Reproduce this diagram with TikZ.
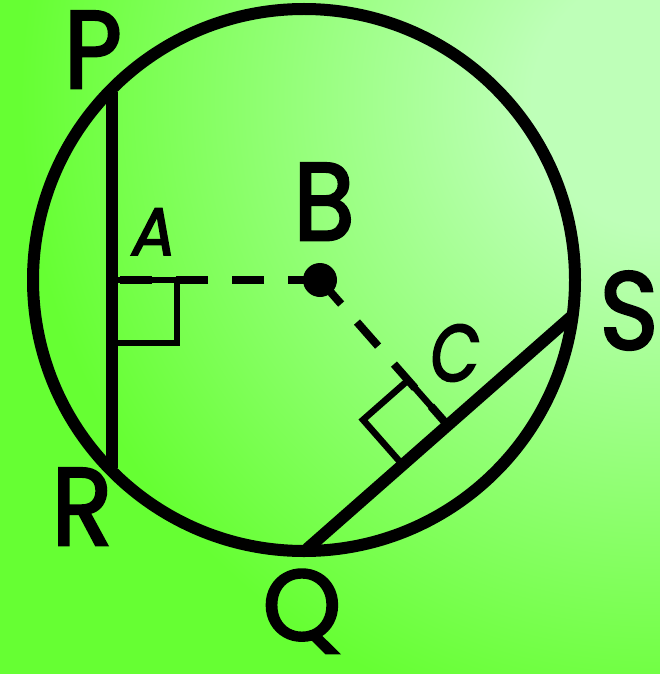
\documentclass[tikz,border=0pt]{standalone}
\usepackage{fontspec}
\setmainfont{Poppins}
\newfontfamily\ptfont{Poppins}[FakeBold=2.5]
\usepackage{tikz}
\usetikzlibrary{calc,positioning}
\definecolor{limegreen}{RGB}{102,255,51}
\definecolor{palegreen}{RGB}{190,255,184}
\newcommand{\tall}[2][1.1]{\scalebox{1}[#1]{#2}}
% flat pale patch in the corner, then a long fade out to the lime green
\pgfdeclareradialshading{glow}{\pgfpoint{0bp}{0bp}}{color(0bp)=(palegreen);
  color(5bp)=(palegreen); color(25bp)=(limegreen); color(50bp)=(limegreen)}

\begin{document}
\begin{tikzpicture}[x=1pt,y=-1pt,
  rim/.style={line width=12pt},
  chord/.style={line width=12pt},
  perp/.style={line width=8pt,dash pattern=on 32pt off 24pt},
  rtang/.style={line width=6.5pt},
  dot/.style={circle,fill=black,inner sep=0pt,minimum size=34pt},
  lbl/.style={anchor=base,inner sep=0pt,font=\ptfont\fontsize{100}{100}\selectfont},
  sublbl/.style={anchor=base,inner sep=0pt,font=\ptfont\itshape\fontsize{64}{64}\selectfont}]

\useasboundingbox (0,0) rectangle (660,674);
\fill[limegreen] (0,0) rectangle (660,674);
\begin{scope}
  \clip (0,0) rectangle (660,674);
  \shade[shading=glow] (660,100) circle (640pt);
\end{scope}

\coordinate (o) at (304,280);
\coordinate (p) at (111.5,92);
\coordinate (r) at (111.5,468);
\coordinate (q) at (307,549);
\coordinate (s) at (572,316);
\coordinate (a) at (111.5,280);
\coordinate (b) at (320,280);
\coordinate (c) at ($(q)!(b)!(s)$);
\coordinate (cb) at ($(c)!60pt!(b)$);
\coordinate (cq) at ($(c)!60pt!(q)$);

\draw[perp] (b) -- (a);
\draw[perp] (b) -- (c);
\draw[rtang] (a) rectangle ++(65.5,63);
\draw[rtang] (c) -- (cb) -- ($(cb)+(cq)-(c)$) -- (cq);

\draw[chord] (p) -- (r);
\draw[chord] (q) -- (s);
\draw[rim] (o) circle (271pt);
\node[dot] (bdot) at (b) {};

\foreach \t/\x/\y in {P/93/88,B/324/240,S/629/349,R/82/545}
  \node[lbl] (l\t) at (\x,\y) {\tall{\t}};
\node[lbl] (lQ) at (302,640) {\tall[1]{Q}};
\node[sublbl] (lA) at (154,255) {\tall[1.05]{A}};
\node[sublbl] (lC) at (455,381) {\tall[1.25]{C}};
\end{tikzpicture}
\end{document}
